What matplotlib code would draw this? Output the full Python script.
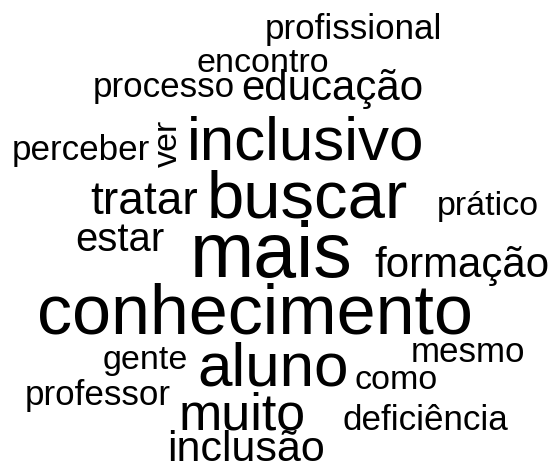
import matplotlib
matplotlib.use("Agg")
import matplotlib.pyplot as plt

# word cloud data: words and their relative size (frequency weight)
words = ["profissional", "encontro", "processo", "educação", "perceber", "ver",
         "inclusivo", "tratar", "buscar", "prático", "estar", "mais", "formação",
         "conhecimento", "gente", "aluno", "mesmo", "como", "professor", "muito",
         "deficiência", "inclusão"]
weights = [35, 34, 35, 42, 35, 34,
           62, 46, 67, 34, 40, 77, 42,
           70, 34, 62, 35, 34, 35, 52,
           35, 43]

# layout of the cloud (left x, baseline y in pixels) and rotation
layout = [(265, 39), (197, 72), (93, 97), (241, 100), (12, 160), (177, 167),
          (187, 160), (90, 214), (207, 217), (437, 215), (75, 251), (190, 277), (374, 277),
          (37, 334), (103, 369), (197, 385), (411, 362), (355, 389), (25, 405), (179, 430),
          (342, 430), (167, 461)]
rotations = [90 if w == "ver" else 0 for w in words]

fig = plt.figure(figsize=(5.56, 4.66), dpi=100)
ax = fig.add_axes([0, 0, 1, 1])
ax.set_xlim(0, 556)
ax.set_ylim(466, 0)
ax.axis("off")

for word, size, (x, y), rot in zip(words, weights, layout, rotations):
    ax.text(x, y, word, fontsize=size * 0.72, family="Liberation Sans",
            color="black", ha="left", va="baseline", rotation=rot,
            rotation_mode="anchor")

fig.savefig("out.png", dpi=100, facecolor="white")
